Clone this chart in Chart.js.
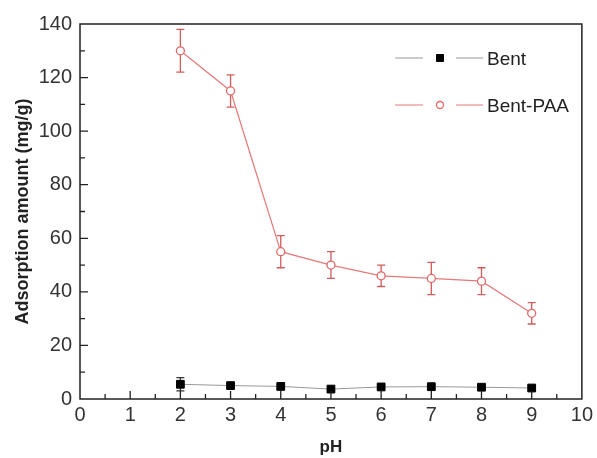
<!DOCTYPE html>
<html>
<head>
<meta charset="utf-8">
<script src="https://cdn.jsdelivr.net/npm/chart.js@4"></script>
<style>
  html, body { margin: 0; padding: 0; background: #fff; }
  #wrap { width: 597px; height: 458px; position: relative; }
</style>
</head>
<body>
<div id="wrap"><canvas id="chart"></canvas></div>
<script>
// pH values
const phValues = [2, 3, 4, 5, 6, 7, 8, 9];

// Bent
const bentValues = [5.5, 5.0, 4.7, 3.7, 4.5, 4.6, 4.4, 4.1];
const bentErrors = [2.5, 0.8, 0.8, 0.8, 0.8, 0.8, 0.8, 0.8];

// Bent-PAA
const paaValues = [130, 115, 55, 50, 46, 45, 44, 32];
const paaErrors = [8, 6, 6, 5, 4, 6, 5, 4];

const xTicks = [0, 1, 2, 3, 4, 5, 6, 7, 8, 9, 10];
const yTicks = [0, 20, 40, 60, 80, 100, 120, 140];

const FONT = "'Liberation Sans', Arial, sans-serif";

// build point lists for the library
const toPoints = (xs, ys) => xs.map((x, i) => ({ x: x, y: ys[i] }));

// error bars, drawn under the markers
const errorBars = {
  id: 'errorBars',
  beforeDatasetsDraw(chart) {
    const ctx = chart.ctx;
    const xs = chart.scales.x, ys = chart.scales.y;
    chart.data.datasets.forEach((ds) => {
      ctx.save();
      ctx.strokeStyle = ds.errColor;
      ctx.lineWidth = 1.3;
      ds.data.forEach((p, i) => {
        const e = ds.errors[i];
        const px = xs.getPixelForValue(p.x);
        const top = ys.getPixelForValue(p.y + e);
        const bot = ys.getPixelForValue(p.y - e);
        ctx.beginPath();
        ctx.moveTo(px, top); ctx.lineTo(px, bot);
        ctx.moveTo(px - 4, top); ctx.lineTo(px + 4, top);
        ctx.moveTo(px - 4, bot); ctx.lineTo(px + 4, bot);
        ctx.stroke();
      });
      ctx.restore();
    });
  }
};

// box frame and inward ticks
const frame = {
  id: 'frame',
  afterDraw(chart) {
    const ctx = chart.ctx;
    const a = chart.chartArea;
    const xs = chart.scales.x, ys = chart.scales.y;
    ctx.save();
    ctx.strokeStyle = '#222';
    ctx.lineWidth = 1.5;
    ctx.strokeRect(a.left, a.top, a.right - a.left, a.bottom - a.top);
    ctx.lineWidth = 1.3;
    ctx.beginPath();
    for (let v = 0.5; v < 10; v += 0.5) {
      const px = xs.getPixelForValue(v);
      const len = Number.isInteger(v) ? 8 : 5;
      ctx.moveTo(px, a.bottom); ctx.lineTo(px, a.bottom - len);
    }
    for (let v = 10; v < 140; v += 10) {
      const py = ys.getPixelForValue(v);
      const len = v % 20 === 0 ? 8 : 5;
      ctx.moveTo(a.left, py); ctx.lineTo(a.left + len, py);
    }
    ctx.stroke();
    ctx.restore();
  }
};

// legend: line - marker - line, label
const customLegend = {
  id: 'customLegend',
  afterDraw(chart) {
    const ctx = chart.ctx;
    const rows = [58, 105];
    ctx.save();
    chart.data.datasets.forEach((ds, i) => {
      const y = rows[i];
      ctx.strokeStyle = ds.borderColor;
      ctx.lineWidth = 1;
      ctx.beginPath();
      ctx.moveTo(395, y); ctx.lineTo(423, y);
      ctx.moveTo(456, y); ctx.lineTo(483, y);
      ctx.stroke();
      ctx.fillStyle = ds.pointBackgroundColor;
      ctx.strokeStyle = ds.pointBorderColor;
      ctx.lineWidth = ds.pointBorderWidth;
      ctx.beginPath();
      if (ds.pointStyle === 'rect') {
        ctx.rect(440 - 3.5, y - 3.5, 7, 7);
      } else {
        ctx.arc(440, y, 3.5, 0, Math.PI * 2);
      }
      ctx.fill();
      ctx.stroke();
      ctx.fillStyle = '#222';
      ctx.font = '19px ' + FONT;
      ctx.textBaseline = 'middle';
      ctx.fillText(ds.label, 487, y + 2);
    });
    ctx.restore();
  }
};

new Chart(document.getElementById('chart'), {
  type: 'line',
  data: {
    datasets: [
      {
        label: 'Bent',
        data: toPoints(phValues, bentValues),
        errors: bentErrors,
        errColor: '#333',
        borderColor: '#999',
        borderWidth: 1,
        pointStyle: 'rect',
        pointRadius: 5.5,
        pointBackgroundColor: '#000',
        pointBorderColor: '#000',
        pointBorderWidth: 1,
        tension: 0
      },
      {
        label: 'Bent-PAA',
        data: toPoints(phValues, paaValues),
        errors: paaErrors,
        errColor: '#d05c5c',
        borderColor: '#e57a7a',
        borderWidth: 1.2,
        pointStyle: 'circle',
        pointRadius: 4,
        pointBackgroundColor: '#fff',
        pointBorderColor: '#e06868',
        pointBorderWidth: 1.3,
        tension: 0
      }
    ]
  },
  options: {
    responsive: true,
    maintainAspectRatio: false,
    animation: false,
    layout: { padding: { top: 24, right: 11, left: 0, bottom: 0 } },
    plugins: {
      legend: { display: false },
      tooltip: { enabled: false }
    },
    scales: {
      x: {
        type: 'linear',
        min: 0,
        max: 10,
        afterBuildTicks: (s) => { s.ticks = xTicks.map(v => ({ value: v })); },
        afterFit: (s) => { s.height = 59; },
        grid: { display: false, drawTicks: false },
        border: { display: false },
        ticks: { padding: 4, color: '#333', font: { family: FONT, size: 20 } },
        title: {
          display: true,
          text: 'pH',
          color: '#222',
          padding: { top: 0, bottom: 0 },
          font: { family: FONT, size: 17, weight: 'bold' }
        }
      },
      y: {
        min: 0,
        max: 140,
        afterBuildTicks: (s) => { s.ticks = yTicks.map(v => ({ value: v })); },
        afterFit: (s) => { s.width = 80; },
        grid: { display: false, drawTicks: false },
        border: { display: false },
        ticks: { padding: 8, color: '#333', font: { family: FONT, size: 20 } },
        title: {
          display: true,
          text: 'Adsorption amount (mg/g)',
          color: '#222',
          padding: { top: 12, bottom: 0 },
          font: { family: FONT, size: 18, weight: 'bold' }
        }
      }
    }
  },
  plugins: [errorBars, frame, customLegend]
});
</script>
</body>
</html>
